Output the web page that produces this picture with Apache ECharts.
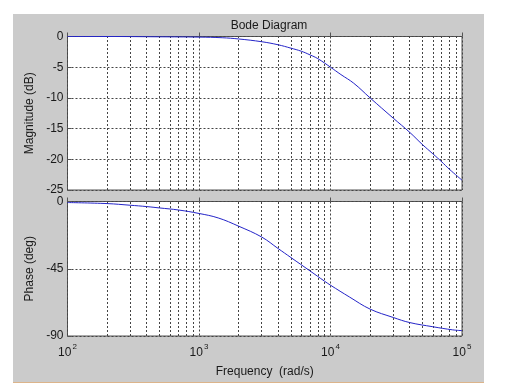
<!DOCTYPE html>
<html><head><meta charset="utf-8">
<script src="https://cdn.jsdelivr.net/npm/echarts@6/dist/echarts.min.js"></script>
<style>html,body{margin:0;padding:0;background:#fff}#c{width:505px;height:386px}</style>
</head><body><div id="c"></div>
<script>
// ---- data ----
const magFreq = [100, 200, 500, 1000, 1500, 2000, 3000, 4000, 5000, 6000, 7000, 8000, 10000, 12000, 15000, 20000, 30000, 40000, 50000, 60000, 70000, 80000, 100000];
const magDb   = [0, 0, -0.05, -0.1, -0.2, -0.4, -0.85, -1.35, -1.9, -2.4, -3.0, -3.6, -5.0, -6.2, -7.6, -10.0, -13.3, -15.6, -17.6, -19.1, -20.4, -21.6, -23.4];
const phaseFreq = [100, 200, 300, 400, 500, 700, 1000, 1400, 2000, 3000, 4000, 5000, 7000, 9000, 10000, 14000, 20000, 30000, 40000, 60000, 85000, 100000];
const phaseDeg  = [-0.7, -1.4, -2.5, -3.4, -4.3, -5.7, -8.0, -11.0, -16.5, -23.8, -31.5, -37.5, -46.5, -53.3, -56, -64, -72, -77.6, -81, -83.8, -85.9, -86.4];
const minorFreqs = [200, 300, 400, 500, 600, 700, 800, 900, 2000, 3000, 4000, 5000, 6000, 7000, 8000, 9000, 20000, 30000, 40000, 50000, 60000, 70000, 80000, 90000];
const freqRange = [100, 100000];
const magRange = [-25, 0];
const phaseRange = [-90, 0];
const titleText = 'Bode Diagram';
const xName = 'Frequency  (rad/s)';
const magName = 'Magnitude (dB)';
const phaseName = 'Phase (deg)';

const FONT = 'Liberation Sans, Arial, Helvetica, sans-serif';
const TXT = '#1a1a1a';
const GRIDC = '#444';
const BOX = '#555';
const LINE = '#2424c8';

const chart = echarts.init(document.getElementById('c'), null, {renderer: 'canvas'});

function xAxisDef(gridIndex, showLabels, name) {
  return {
    type: 'log', logBase: 10, gridIndex: gridIndex,
    min: freqRange[0], max: freqRange[1],
    axisLine: {show: false},
    axisTick: {show: true, inside: true, length: 4, lineStyle: {color: BOX}},
    splitLine: {show: true, lineStyle: {type: [2, 2], color: GRIDC, width: 1}},
    axisLabel: {
      show: showLabels, margin: 7, color: TXT, fontFamily: FONT,
      formatter: v => '{b|10}{s|' + Math.round(Math.log10(v)) + '}',
      rich: {
        b: {fontSize: 12, fontFamily: FONT, color: TXT, lineHeight: 20},
        s: {fontSize: 8, fontFamily: FONT, color: TXT, verticalAlign: 'top', padding: [0, 0, 0, 1]}
      }
    },
    name: name || '', nameLocation: 'middle', nameGap: 30,
    nameTextStyle: {fontSize: 12, fontFamily: FONT, color: TXT}
  };
}
function yAxisDef(gridIndex, range, interval, name) {
  return {
    type: 'value', gridIndex: gridIndex,
    min: range[0], max: range[1], interval: interval,
    axisLine: {show: false},
    axisTick: {show: true, inside: true, length: 4, lineStyle: {color: BOX}},
    splitLine: {show: true, lineStyle: {type: [2, 2], color: GRIDC, width: 1}},
    axisLabel: {margin: 4, fontSize: 12, fontFamily: FONT, color: TXT},
    name: name, nameLocation: 'middle', nameGap: 26, nameRotate: 90,
    nameTextStyle: {fontSize: 12, fontFamily: FONT, color: TXT}
  };
}
function minorLines() {
  return {
    silent: true, symbol: ['none', 'none'], z: 1, animation: false,
    label: {show: false},
    lineStyle: {type: [2, 2], color: GRIDC, width: 1},
    emphasis: {disabled: true},
    data: minorFreqs.map(v => ({xAxis: v}))
  };
}

chart.setOption({
  animation: false,
  backgroundColor: '#fff',
  graphic: [
    {type: 'rect', z: -10, silent: true, shape: {x: 13, y: 14, width: 471, height: 368}, style: {fill: '#cbcbcb'}},
    {type: 'rect', z: -10, silent: true, shape: {x: 13, y: 382, width: 471, height: 1}, style: {fill: '#dcb48a'}}
  ],
  title: {
    text: titleText, left: 264, top: 15, textAlign: 'center',
    textStyle: {fontSize: 12, fontWeight: 'normal', fontFamily: FONT, color: TXT}
  },
  grid: [
    {left: 67.5, top: 36.5, width: 394.5, height: 153.5, show: true, backgroundColor: '#fff', borderColor: BOX, borderWidth: 1},
    {left: 67.5, top: 201.5, width: 394.5, height: 134.5, show: true, backgroundColor: '#fff', borderColor: BOX, borderWidth: 1}
  ],
  xAxis: [xAxisDef(0, false), xAxisDef(1, true, xName)],
  yAxis: [yAxisDef(0, magRange, 5, magName), yAxisDef(1, phaseRange, 45, phaseName)],
  series: [
    {
      type: 'line', xAxisIndex: 0, yAxisIndex: 0, z: 3, smooth: 0.4, symbol: 'none',
      lineStyle: {color: LINE, width: 1}, silent: true,
      data: magFreq.map((f, i) => [f, magDb[i]]),
      markLine: minorLines()
    },
    {
      type: 'line', xAxisIndex: 1, yAxisIndex: 1, z: 3, smooth: 0.4, symbol: 'none',
      lineStyle: {color: LINE, width: 1}, silent: true,
      data: phaseFreq.map((f, i) => [f, phaseDeg[i]]),
      markLine: minorLines()
    }
  ]
});
</script></body></html>
